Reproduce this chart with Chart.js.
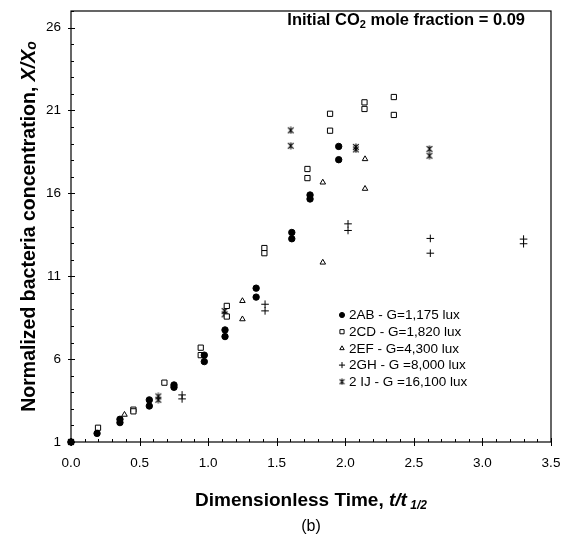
<!DOCTYPE html>
<html>
<head>
<meta charset="utf-8">
<script src="https://cdn.jsdelivr.net/npm/chart.js@4.4.1/dist/chart.umd.min.js"></script>
<style>
  html, body { margin: 0; padding: 0; background: #fff; }
  #wrap { width: 577px; height: 543px; }
</style>
</head>
<body>
<div id="wrap"><canvas id="chart" width="577" height="543"></canvas></div>
<script>
/* ---- data ---- */
const xTicks = [0, 0.5, 1.0, 1.5, 2.0, 2.5, 3.0, 3.5];
const yTicks = [1, 6, 11, 16, 21, 26];
const seriesNames = [
  '2AB - G=1,175 lux',
  '2CD - G=1,820 lux',
  '2EF - G=4,300 lux',
  '2GH - G =8,000 lux',
  '2 IJ - G =16,100 lux'
];

const abX = [0, 0.19, 0.357, 0.357, 0.571, 0.571, 0.751, 0.751, 0.972, 0.972, 1.123, 1.123, 1.35, 1.35, 1.61, 1.61, 1.743, 1.743, 1.952, 1.952];
const abY = [1, 1.52, 2.37, 2.17, 3.54, 3.17, 4.44, 4.30, 6.24, 5.85, 7.76, 7.36, 10.28, 9.74, 13.64, 13.26, 15.90, 15.66, 18.83, 18.03];

const cdX = [0, 0.197, 0.455, 0.455, 0.681, 0.946, 0.946, 1.136, 1.136, 1.41, 1.41, 1.724, 1.724, 1.889, 1.889, 2.14, 2.14, 2.354, 2.354];
const cdY = [1, 1.86, 2.95, 2.85, 4.58, 6.69, 6.24, 9.21, 8.57, 12.70, 12.39, 17.47, 16.92, 20.8, 19.78, 21.49, 21.09, 21.81, 20.73];

const efX = [0, 0.39, 1.25, 1.25, 1.836, 1.836, 2.144, 2.144];
const efY = [1, 2.65, 9.51, 8.41, 11.83, 16.66, 18.07, 16.28];

const ghX = [0, 0.81, 0.81, 1.415, 1.415, 2.02, 2.02, 2.62, 2.62, 3.30, 3.30];
const ghY = [1, 3.84, 3.60, 9.31, 8.91, 14.16, 13.76, 13.28, 12.39, 13.24, 12.96];

const ijX = [0, 0.637, 0.637, 1.12, 1.12, 1.602, 1.602, 2.077, 2.077, 2.614, 2.614];
const ijY = [1, 3.75, 3.55, 8.9, 8.7, 19.80, 18.87, 18.8, 18.65, 18.68, 18.27];

/* ---- helpers ---- */
function pairs(xs, ys) {
  return xs.map((x, i) => ({ x, y: ys[i] }));
}

// "ж" style asterisk marker, not one of the built-in point styles
function makeAsterisk(size) {
  const c = document.createElement('canvas');
  c.width = c.height = size;
  const g = c.getContext('2d');
  g.strokeStyle = '#000';
  g.lineWidth = 1.1;
  const m = size / 2, r = size / 2 - 0.5, d = r * 0.8;
  g.beginPath();
  g.moveTo(m, m - r); g.lineTo(m, m + r);
  g.moveTo(m - d, m - d); g.lineTo(m + d, m + d);
  g.moveTo(m + d, m - d); g.lineTo(m - d, m + d);
  g.stroke();
  return c;
}
const asterisk = makeAsterisk(8);
const asteriskSmall = makeAsterisk(7);

const MARKERS = [
  { pointStyle: 'circle',   radius: 3.2, fill: '#000', border: 1 },
  { pointStyle: 'rect',     radius: 3.7, fill: '#fff', border: 1 },
  { pointStyle: 'triangle', radius: 3.2, fill: '#fff', border: 1 },
  { pointStyle: 'cross',    radius: 3.8, fill: '#fff', border: 1 },
  { pointStyle: asterisk,   radius: 4,   fill: '#fff', border: 1 }
];

const seriesData = [
  pairs(abX, abY), pairs(cdX, cdY), pairs(efX, efY), pairs(ghX, ghY), pairs(ijX, ijY)
];

const FONT = "'Liberation Sans', Arial, sans-serif";

// draw mixed-font text runs in one line
function drawRuns(ctx, runs, x, y, align) {
  let total = 0;
  runs.forEach(r => { ctx.font = r.font; r.w = ctx.measureText(r.text).width; total += r.w; });
  let cx = align === 'center' ? x - total / 2 : align === 'right' ? x - total : x;
  ctx.textAlign = 'left';
  ctx.textBaseline = 'alphabetic';
  runs.forEach(r => {
    ctx.font = r.font;
    ctx.fillText(r.text, cx, y + (r.dy || 0));
    cx += r.w;
  });
}

// legend symbols are a bit smaller than the plotted ones
function drawMarker(ctx, m, x, y) {
  ctx.save();
  ctx.fillStyle = m.fill;
  ctx.strokeStyle = '#000';
  ctx.lineWidth = m.border;
  if (typeof m.pointStyle !== 'string') {
    ctx.drawImage(asteriskSmall, x - asteriskSmall.width / 2, y - asteriskSmall.height / 2);
  } else {
    Chart.helpers.drawPoint(ctx, { pointStyle: m.pointStyle, radius: m.radius * 0.8, rotation: 0, borderWidth: m.border }, x, y);
  }
  ctx.restore();
}

/* ---- frame + tick marks (Excel style: majors cross, minors inside) ---- */
const frameTicks = {
  id: 'frameTicks',
  afterDatasetsDraw(chart) {
    const { ctx, chartArea: a, scales: { x, y } } = chart;
    ctx.save();
    ctx.strokeStyle = '#000';
    ctx.lineWidth = 1.2;
    ctx.strokeRect(a.left, a.top, a.right - a.left, a.bottom - a.top);
    ctx.lineWidth = 1;
    ctx.beginPath();
    for (let v = 0; v <= 3.5001; v += 0.1) {
      const px = Math.round(x.getPixelForValue(v)) + 0.5;
      const major = Math.abs(v * 2 - Math.round(v * 2)) < 1e-6;
      ctx.moveTo(px, a.bottom - (major ? 4 : 3));
      ctx.lineTo(px, a.bottom + (major ? 4 : 0));
    }
    for (let v = 1; v <= 27; v += 1) {
      const py = Math.round(y.getPixelForValue(v)) + 0.5;
      const major = (v - 1) % 5 === 0;
      ctx.moveTo(a.left - (major ? 3 : 0), py);
      ctx.lineTo(a.left + (major ? 4 : 3), py);
    }
    ctx.stroke();
    ctx.restore();
  }
};

/* ---- titles, note and legend ---- */
const labels = {
  id: 'labels',
  afterDraw(chart) {
    const { ctx, chartArea: a } = chart;
    ctx.save();
    ctx.fillStyle = '#000';

    drawRuns(ctx, [
      { text: 'Initial CO', font: `bold 16.5px ${FONT}` },
      { text: '2', font: `bold 11px ${FONT}`, dy: 3 },
      { text: ' mole fraction = 0.09', font: `bold 16.5px ${FONT}` }
    ], 525, 25, 'right');

    drawRuns(ctx, [
      { text: 'Dimensionless Time, ', font: `bold 19px ${FONT}` },
      { text: 't/t', font: `italic bold 19px ${FONT}` },
      { text: ' 1/2', font: `italic bold 12px ${FONT}`, dy: 3 }
    ], 311, 506, 'center');

    drawRuns(ctx, [{ text: '(b)', font: `16px ${FONT}` }], 311, 531, 'center');

    ctx.save();
    ctx.translate(35, (a.top + a.bottom) / 2);
    ctx.rotate(-Math.PI / 2);
    drawRuns(ctx, [
      { text: 'Normalized bacteria concentration, ', font: `bold 19.5px ${FONT}` },
      { text: 'X/X', font: `italic bold 19.5px ${FONT}` },
      { text: 'o', font: `italic bold 14px ${FONT}`, dy: 1 }
    ], 0, 0, 'center');
    ctx.restore();

    ctx.font = `13.5px ${FONT}`;
    ctx.textBaseline = 'middle';
    ctx.textAlign = 'left';
    seriesNames.forEach((name, i) => {
      const ry = 315 + i * 16.7;
      drawMarker(ctx, MARKERS[i], 342, ry);
      ctx.fillStyle = '#000';
      ctx.fillText(name, 349, ry + 0.5);
    });
    ctx.restore();
  }
};

new Chart(document.getElementById('chart'), {
  type: 'scatter',
  data: {
    datasets: seriesData.map((d, i) => ({
      label: seriesNames[i],
      data: d,
      clip: false,
      pointStyle: MARKERS[i].pointStyle,
      pointRadius: MARKERS[i].radius,
      pointBackgroundColor: MARKERS[i].fill,
      pointBorderColor: '#000',
      pointBorderWidth: MARKERS[i].border,
      showLine: false
    }))
  },
  options: {
    responsive: false,
    animation: false,
    layout: { padding: { left: 0, top: 11, right: 26, bottom: 0 } },
    plugins: { legend: { display: false }, tooltip: { enabled: false } },
    scales: {
      x: {
        type: 'linear', min: 0, max: 3.5,
        afterBuildTicks: s => { s.ticks = xTicks.map(v => ({ value: v })); },
        afterFit: s => { s.height = 101; s.paddingLeft = 0; s.paddingRight = 0; },
        grid: { display: false, drawTicks: false },
        border: { display: false },
        ticks: { color: '#000', padding: 13, font: { family: FONT, size: 13.5 }, callback: v => Number(v).toFixed(1), maxRotation: 0 }
      },
      y: {
        type: 'linear', min: 1, max: 27,
        afterBuildTicks: s => { s.ticks = yTicks.map(v => ({ value: v })); },
        afterFit: s => { s.width = 71; s.paddingTop = 0; s.paddingBottom = 0; },
        grid: { display: false, drawTicks: false },
        border: { display: false },
        ticks: { color: '#000', padding: 10, font: { family: FONT, size: 13.5 } }
      }
    }
  },
  plugins: [frameTicks, labels]
});
</script>
</body>
</html>
